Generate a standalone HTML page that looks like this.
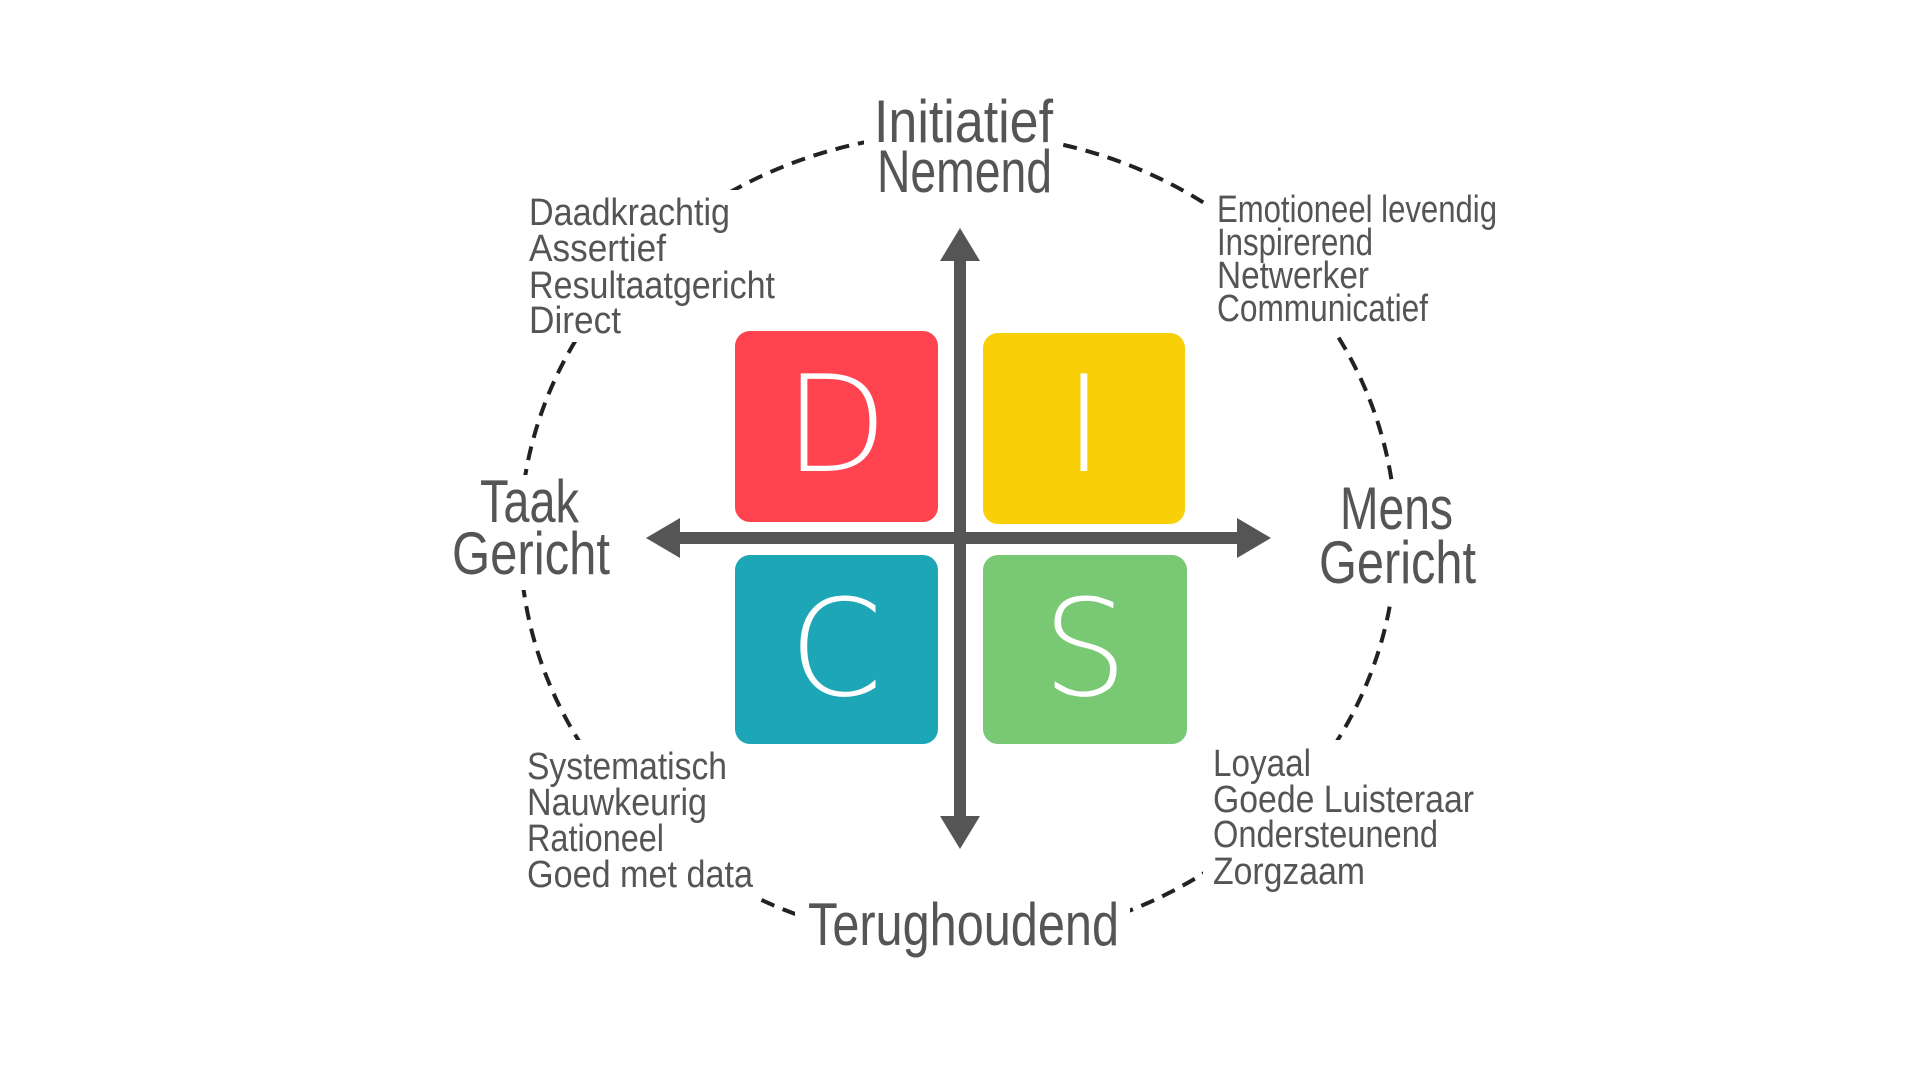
<!DOCTYPE html>
<html><head><meta charset="utf-8"><style>
html,body{margin:0;padding:0;background:#fff;}
svg{display:block;}
.t{font-family:"Liberation Sans Narrow","Liberation Sans",sans-serif;fill:#555;}
.h{font-size:60px;}
.l{font-size:38px;}
.L{font-family:"DejaVu Sans","Liberation Sans",sans-serif;font-weight:200;font-size:134px;fill:#fff;}
</style></head><body>
<svg width="1920" height="1080" viewBox="0 0 1920 1080" xmlns="http://www.w3.org/2000/svg">
<rect width="1920" height="1080" fill="#fff"/>
<ellipse cx="958" cy="538" rx="438" ry="405" fill="none" stroke="#222" stroke-width="4" stroke-dasharray="14 9"/>
<g fill="#fff">
<rect x="864" y="85" width="199" height="120"/>
<rect x="440" y="475" width="180" height="115"/>
<rect x="1310" y="480" width="175" height="120"/>
<rect x="795" y="895" width="335" height="65"/>
<rect x="519" y="190" width="266" height="152"/>
<rect x="1205" y="188" width="300" height="144"/>
<rect x="517" y="740" width="243" height="160"/>
<rect x="1203" y="740" width="277" height="157"/>
</g>
<rect x="735" y="331" width="203" height="191" rx="15" fill="#ff444f"/>
<rect x="983" y="333" width="202" height="191" rx="15" fill="#f9cf08"/>
<rect x="735" y="555" width="203" height="189" rx="15" fill="#1ca6b6"/>
<rect x="983" y="555" width="204" height="189" rx="15" fill="#79c974"/>
<text class="L" x="836" y="471" text-anchor="middle">D</text>
<text class="L" x="1084" y="471" text-anchor="middle">I</text>
<text class="L" x="836" y="695" text-anchor="middle">C</text>
<text class="L" x="1085" y="695" text-anchor="middle">S</text>
<g fill="#555">
<rect x="954" y="255" width="12" height="568"/>
<polygon points="960,228 940,261 980,261"/>
<polygon points="960,849 940,816 980,816"/>
<rect x="673" y="532" width="572" height="12"/>
<polygon points="646,538 680,518 680,558"/>
<polygon points="1271,538 1237,518 1237,558"/>
</g>
<g class="t h">
<text x="874" y="142" textLength="179" lengthAdjust="spacingAndGlyphs">Initiatief</text>
<text x="877" y="192" textLength="175" lengthAdjust="spacingAndGlyphs">Nemend</text>
<text x="480" y="522" textLength="99" lengthAdjust="spacingAndGlyphs">Taak</text>
<text x="452" y="574" textLength="158" lengthAdjust="spacingAndGlyphs">Gericht</text>
<text x="1340" y="529" textLength="113" lengthAdjust="spacingAndGlyphs">Mens</text>
<text x="1319" y="583" textLength="157" lengthAdjust="spacingAndGlyphs">Gericht</text>
<text x="808" y="945" textLength="311" lengthAdjust="spacingAndGlyphs">Terughoudend</text>
</g>
<g class="t l">
<text x="529" y="225" textLength="201" lengthAdjust="spacingAndGlyphs">Daadkrachtig</text>
<text x="529" y="261" textLength="137" lengthAdjust="spacingAndGlyphs">Assertief</text>
<text x="529" y="298" textLength="246" lengthAdjust="spacingAndGlyphs">Resultaatgericht</text>
<text x="529" y="333" textLength="92" lengthAdjust="spacingAndGlyphs">Direct</text>
<text x="1217" y="222" textLength="280" lengthAdjust="spacingAndGlyphs">Emotioneel levendig</text>
<text x="1217" y="255" textLength="156" lengthAdjust="spacingAndGlyphs">Inspirerend</text>
<text x="1217" y="288" textLength="152" lengthAdjust="spacingAndGlyphs">Netwerker</text>
<text x="1217" y="321" textLength="211" lengthAdjust="spacingAndGlyphs">Communicatief</text>
<text x="527" y="779" textLength="200" lengthAdjust="spacingAndGlyphs">Systematisch</text>
<text x="527" y="815" textLength="180" lengthAdjust="spacingAndGlyphs">Nauwkeurig</text>
<text x="527" y="851" textLength="137" lengthAdjust="spacingAndGlyphs">Rationeel</text>
<text x="527" y="887" textLength="226" lengthAdjust="spacingAndGlyphs">Goed met data</text>
<text x="1213" y="776" textLength="98" lengthAdjust="spacingAndGlyphs">Loyaal</text>
<text x="1213" y="812" textLength="261" lengthAdjust="spacingAndGlyphs">Goede Luisteraar</text>
<text x="1213" y="847" textLength="225" lengthAdjust="spacingAndGlyphs">Ondersteunend</text>
<text x="1213" y="884" textLength="152" lengthAdjust="spacingAndGlyphs">Zorgzaam</text>
</g>
</svg>
</body></html>
